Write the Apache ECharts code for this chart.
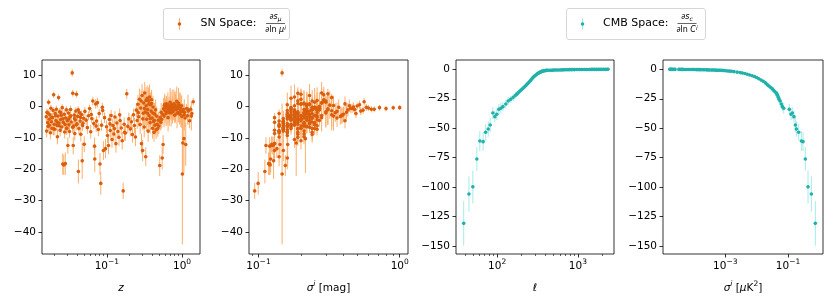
<!DOCTYPE html>
<html><head><meta charset="utf-8">
<script src="https://cdn.jsdelivr.net/npm/echarts@6/dist/echarts.min.js"></script>
<style>html,body{margin:0;padding:0;background:#fff}#c{width:831px;height:304px}</style>
</head><body><div id="c"></div>
<script>
// SN rows: [z, sigma_i (mag), ds_mu/dln mu_i, error]
const snLowZ = [
[0.0156,0.165,-3.2,1.5],[0.0158,0.21,-7.8,2.0],[0.0160,0.18,-1.8,1.2],[0.0163,0.25,-5.1,1.8],
[0.0166,0.14,-6.3,1.6],[0.0168,0.30,1.4,1.0],[0.0171,0.19,-4.0,1.4],[0.0174,0.23,-2.6,1.3],
[0.0177,0.16,-8.3,2.1],[0.0180,0.27,-0.5,1.1],[0.0183,0.15,-4.8,1.5],[0.0186,0.20,-6.9,1.9],
[0.0190,0.13,-3.5,1.4],[0.0193,0.22,-1.2,1.2],[0.0196,0.29,3.8,1.0],[0.0199,0.17,-5.6,1.7],
[0.0203,0.26,-7.2,2.0],[0.0206,0.14,-2.2,1.3],[0.0210,0.19,-4.4,1.5],[0.0213,0.24,-0.8,1.1],
[0.0217,0.16,-6.0,1.8],[0.0220,0.21,-9.6,2.4],[0.0224,0.18,-3.0,1.4],[0.0228,0.33,2.9,1.0],
[0.0231,0.15,-5.2,1.6],[0.0235,0.22,-1.6,1.2],[0.0239,0.13,-7.5,2.0],[0.0243,0.20,-4.1,1.5],
[0.0247,0.28,-2.8,1.3],[0.0251,0.17,-6.5,1.8],[0.0255,0.24,-0.3,1.1],[0.0259,0.12,-18.3,3.4],
[0.0263,0.19,-5.0,1.6],[0.0267,0.121,-18.6,3.2],[0.0271,0.23,-2.4,1.3],[0.0275,0.16,-8.1,2.1],
[0.0280,0.118,-18.2,3.6],[0.0284,0.21,-3.6,1.4],[0.0289,0.27,-1.0,1.2],[0.0294,0.15,-6.8,1.9],
[0.0298,0.20,-4.5,1.5],[0.0303,0.113,-12.4,2.6],[0.0308,0.18,-2.0,1.3],[0.0313,0.25,-5.8,1.7],
[0.0318,0.14,-7.9,2.0],[0.0323,0.22,-3.3,1.4],[0.0329,0.17,-0.9,1.2],[0.0335,0.24,-4.9,1.6],
[0.0346,0.147,10.8,1.2],[0.0352,0.19,4.3,1.1],[0.0357,0.125,-12.4,2.8],[0.0362,0.16,-6.2,1.8],
[0.0368,0.21,-2.7,1.3],[0.0374,0.13,-8.6,2.2],[0.0380,0.26,-4.2,1.5],[0.0387,0.18,-1.4,1.2],
[0.0394,0.20,4.0,1.1],[0.0401,0.15,-5.5,1.7],[0.0408,0.23,-3.1,1.4],[0.0418,0.111,-20.7,3.8],
[0.0425,0.17,-7.0,1.9],[0.0433,0.22,-1.9,1.3],[0.0441,0.14,-4.6,1.5],[0.0450,0.19,-8.8,2.3],
[0.0460,0.16,-2.5,1.3],[0.0470,0.128,-17.3,5.8],[0.0480,0.21,-5.3,1.7],[0.0490,0.18,-3.7,1.4],
[0.0500,0.124,-12.0,2.5],
[0.0165,0.22,-2.1,1.3],[0.0172,0.17,-5.9,1.7],[0.0185,0.24,-3.4,1.4],[0.0195,0.15,-7.1,2.0],
[0.0208,0.20,-2.9,1.3],[0.0219,0.13,-5.0,1.6],[0.0233,0.26,-6.1,1.8],[0.0245,0.18,-1.9,1.2],
[0.0261,0.22,-3.9,1.4],[0.0278,0.14,-5.7,1.7],[0.0292,0.25,-7.0,2.0],[0.0310,0.19,-4.0,1.5],
[0.0331,0.16,-2.9,1.3],[0.0350,0.23,-6.6,1.8],[0.0371,0.15,-3.8,1.5],[0.0392,0.21,-5.8,1.7],
[0.0415,0.18,-1.0,1.2],[0.0445,0.26,-3.4,1.4],[0.0475,0.14,-6.0,1.8]
];
const snMidZ = [
[0.051,0.17,-1.5,1.4],[0.053,0.22,-4.3,1.6],[0.055,0.15,-6.7,2.0],[0.057,0.19,-2.9,1.4],
[0.059,0.26,-0.6,1.3],[0.061,0.14,-8.0,2.2],[0.063,0.20,-3.8,1.5],[0.065,0.30,1.8,1.4],
[0.067,0.16,-5.4,1.7],[0.0686,0.12,-12.6,2.8],[0.0690,0.122,-16.7,4.2],[0.071,0.23,0.9,1.5],
[0.073,0.18,-4.6,1.6],[0.075,0.28,1.3,1.6],[0.077,0.15,-7.3,2.1],[0.079,0.21,-2.2,1.5],
[0.081,0.119,-18.3,3.5],[0.083,0.0995,-24.5,3.6],[0.085,0.17,-5.9,1.8],[0.087,0.24,-0.2,1.5],
[0.090,0.13,-14.0,3.0],[0.093,0.19,-3.5,1.7],[0.096,0.135,-13.4,3.0],[0.099,0.22,-6.4,2.0],
[0.102,0.16,-9.2,2.4],[0.105,0.127,-12.4,2.8],[0.108,0.20,-4.1,1.9],[0.111,0.14,-7.6,2.3],
[0.114,0.25,-2.8,1.8],[0.117,0.18,-10.5,2.6],[0.120,0.15,-6.0,2.2],[0.124,0.21,-8.7,2.5],
[0.128,0.17,-3.3,1.9],[0.132,0.13,-11.8,2.9],[0.136,0.23,-5.2,2.1],[0.140,0.16,-7.9,2.4],
[0.145,0.19,-9.8,2.7],[0.150,0.27,-4.4,2.0],[0.155,0.15,-6.8,2.3],[0.160,0.20,-10.9,2.8],
[0.165,0.094,-26.9,2.6],[0.170,0.18,-5.6,2.2],[0.176,0.14,-8.4,2.5],[0.184,0.31,4.1,1.6],
[0.190,0.22,-6.3,2.3],[0.196,0.16,-3.9,2.0],
[0.062,0.18,-2.5,1.5],[0.072,0.21,-6.2,1.9],[0.088,0.16,-1.2,1.6],[0.110,0.23,-5.5,2.2],
[0.126,0.19,-7.0,2.4],[0.148,0.17,-2.6,2.0],[0.172,0.24,-8.2,2.6]
];
const snHighZ = [
[0.205,0.19,-7.1,2.4],[0.212,0.15,-4.8,2.2],[0.219,0.24,-8.9,2.6],[0.226,0.17,-2.6,2.0],
[0.233,0.21,-6.0,2.5],[0.240,0.14,-9.7,2.9],[0.247,0.26,-1.1,2.3],[0.253,0.18,-4.4,2.7],
[0.259,0.22,0.8,2.9],[0.265,0.16,-3.2,3.2],[0.271,0.20,2.4,3.4],[0.277,0.25,-5.7,3.0],
[0.283,0.17,-0.4,3.5],[0.289,0.13,-11.8,3.2],[0.294,0.23,3.6,3.6],[0.299,0.15,-14.0,3.4],
[0.304,0.19,-2.1,3.8],[0.309,0.21,1.2,4.0],[0.314,0.16,-6.5,3.3],[0.319,0.28,4.4,3.5],
[0.324,0.18,-1.7,4.2],[0.329,0.14,-16.0,3.0],[0.334,0.22,0.3,4.5],[0.339,0.20,-4.0,3.9],
[0.344,0.17,2.7,4.1],[0.349,0.24,-0.9,3.7],[0.354,0.15,-7.8,3.4],[0.359,0.19,1.9,4.3],
[0.364,0.26,-2.9,3.6],[0.370,0.18,3.1,4.0],[0.376,0.21,-5.1,3.5],[0.382,0.16,0.6,3.9],
[0.388,0.23,-1.4,4.4],[0.394,0.29,2.2,3.2],[0.400,0.17,-3.6,3.8],[0.406,0.20,-6.9,3.3],
[0.412,0.25,-0.1,3.6],[0.418,0.15,-4.7,3.4],[0.424,0.19,-8.2,3.0],[0.431,0.22,-2.3,3.5],
[0.438,0.18,-5.9,3.2],[0.445,0.27,-1.0,3.3],[0.452,0.16,-7.4,2.9],[0.460,0.21,-3.0,3.1],
[0.468,0.19,-5.6,2.8],[0.476,0.24,-7.0,2.6],[0.484,0.17,-4.3,2.7],[0.492,0.20,-6.2,2.5],
[0.262,0.19,-1.9,3.0],[0.286,0.24,1.8,3.5],[0.301,0.17,-3.9,3.6],[0.317,0.22,-0.6,4.0],
[0.332,0.26,2.0,4.2],[0.347,0.18,-2.1,3.8],[0.362,0.21,0.9,4.1],[0.378,0.24,-3.8,3.6],
[0.392,0.19,1.0,3.9],[0.410,0.16,-2.0,3.5],[0.428,0.23,-4.4,3.2]
];
const snFarZ = [
[0.505,0.155,-18.8,3.3],[0.512,0.23,-3.4,2.8],[0.520,0.18,-5.0,2.6],[0.528,0.21,-1.8,3.0],
[0.536,0.17,-4.1,2.9],[0.545,0.160,-16.4,3.6],[0.553,0.19,-2.5,3.2],[0.560,0.142,-12.1,3.0],
[0.568,0.26,-0.7,3.4],[0.577,0.20,-3.0,3.6],[0.586,0.34,0.4,3.1],[0.595,0.22,-1.3,3.8],
[0.604,0.37,-0.2,2.6],[0.613,0.24,-2.2,4.0],[0.622,0.41,0.9,2.4],[0.632,0.19,-1.6,4.2],
[0.642,0.45,-0.5,1.4],[0.652,0.28,-3.5,4.4],[0.662,0.50,0.2,1.2],[0.672,0.21,-0.9,4.1],
[0.683,0.55,-1.1,1.2],[0.694,0.25,1.4,4.6],[0.705,0.60,-0.4,1.0],[0.716,0.30,-2.0,4.3],
[0.727,0.66,-0.8,1.0],[0.739,0.23,0.7,4.8],[0.750,0.72,-0.3,0.9],[0.762,0.36,-1.5,2.8],
[0.774,0.80,-0.6,0.9],[0.786,0.27,0.1,4.5],[0.798,0.39,-2.7,2.5],[0.811,0.32,0.5,4.4],
[0.824,0.90,-0.35,0.8],[0.837,0.43,-1.0,2.2],[0.850,0.29,1.7,4.7],[0.864,0.47,-0.1,1.5],
[0.878,1.00,-0.3,0.8],[0.892,0.35,-1.9,3.0],[0.906,0.52,0.6,1.3],[0.920,0.31,-0.7,5.0],
[0.935,0.40,-2.4,2.4],[0.950,0.58,-0.2,1.1],[0.965,0.33,-1.3,5.2],[0.981,0.44,0.3,2.0],
[0.997,0.38,-3.1,2.6],[1.010,0.147,-21.5,22.5],[1.025,0.185,-11.6,10.5],[1.040,0.48,-0.9,1.5],
[1.060,0.215,-10.2,11.0],[1.080,0.42,-1.8,2.3],[1.100,0.36,-3.6,2.8],[1.120,0.161,-12.1,6.8],
[1.150,0.46,-0.6,1.5],[1.180,0.39,-2.9,2.5],[1.220,0.53,-1.4,1.3],[1.260,0.41,-4.5,2.4],
[1.300,0.63,-0.8,1.0],[1.350,0.49,-2.2,1.4],[1.410,0.56,1.6,1.2],
[0.590,0.20,0.8,3.4],[0.618,0.17,-0.3,3.8],[0.648,0.22,0.6,4.0],[0.678,0.26,-1.9,4.2],
[0.710,0.18,0.3,4.4],[0.745,0.24,-1.1,4.3],[0.780,0.20,0.9,4.6],[0.818,0.25,-0.5,4.5],
[0.858,0.22,-2.1,4.8],[0.898,0.28,1.1,4.9],[0.942,0.26,-0.4,5.0],[0.988,0.30,-1.6,5.1],
[1.070,0.33,-2.6,5.0],[1.200,0.31,-1.0,4.8],[1.330,0.34,-3.0,4.6]
];
// CMB rows: [ell, sigma_i (muK^2), ds_c/dln C_l^i, error]
const cmbBinned = [
[38.5,0.745,-130.8,19],[44.7,0.556,-105.9,15],[50.0,0.435,-99.8,14],[56.0,0.357,-76.1,10],
[61.0,0.267,-60.9,8.5],[67.0,0.301,-61.4,8],[72.0,0.219,-53.5,7],[77.6,0.185,-50.7,6.5],
[82.0,0.172,-47.3,6],[88.5,0.137,-37.1,5],[93.6,0.155,-40.2,5],[99.0,0.125,-38.2,5],
[105,0.110,-34.0,4.5],[111,0.073,-33.1,4.5],[118,0.066,-31.7,4],[128,0.061,-29.4,3.5],
[137,0.056,-26.9,3.5],[147,0.052,-25.5,3],[158,0.049,-23.8,3],[169,0.0465,-22.1,2.5]
];
const cmbDense = [
[175,0.0447,-21.1,2.0],[182,0.0417,-20.0,2.0],[190,0.0372,-18.7,1.9],[198,0.0339,-17.6,1.9],
[206,0.0316,-16.5,1.8],[214,0.0282,-15.5,1.8],[222,0.0251,-14.4,1.7],[230,0.0224,-13.3,1.6],
[238,0.0204,-12.3,1.6],[246,0.0186,-11.3,1.5],[254,0.0162,-10.2,1.4],[262,0.0138,-9.1,1.3],
[270,0.0117,-8.0,1.2],[278,0.0100,-7.0,1.1],[286,0.0085,-6.2,1.0],[294,0.0072,-5.5,0.9],
[302,0.0060,-4.8,0.8],[310,0.0050,-4.2,0.8],[318,0.0042,-3.6,0.7],[326,0.0035,-3.2,0.6],
[334,0.0030,-2.8,0.6],[342,0.0024,-2.4,0.5],[350,0.0019,-2.0,0.5],[358,0.0016,-1.7,0.4],
[366,0.00138,-1.56,0.4],[375,0.0012,-1.41,0.3],[385,0.00105,-1.25,0.3],[395,0.00091,-1.1,0.3],
[405,0.00079,-0.95,0.3],[415,0.00069,-0.84,0.3],[435,0.00063,-0.82,0.3],[455,0.00058,-0.78,0.3],
[475,0.00053,-0.74,0.3],[495,0.00048,-0.70,0.3],[520,0.00043,-0.65,0.3],[545,0.00039,-0.60,0.3],
[570,0.00035,-0.57,0.3],[600,0.00031,-0.53,0.3],[630,0.00028,-0.49,0.3],[660,0.00025,-0.45,0.3],
[690,0.00022,-0.42,0.3],[720,0.00020,-0.38,0.3],[755,0.00018,-0.34,0.3],[790,0.00016,-0.30,0.3],
[830,0.000145,-0.28,0.3],[870,0.00013,-0.26,0.3],[910,0.000118,-0.24,0.3],[955,0.000107,-0.22,0.3],
[1000,0.000097,-0.20,0.3],[1050,0.000088,-0.18,0.3],[1100,0.000080,-0.16,0.3],[1150,0.000072,-0.15,0.3],
[1210,0.000065,-0.14,0.3],[1270,0.000059,-0.13,0.3],[1330,0.000053,-0.12,0.3],[1400,0.000048,-0.11,0.3],
[1470,0.000044,-0.10,0.3],[1540,0.000040,-0.09,0.3],[1620,0.000036,-0.08,0.3],[1700,0.000033,-0.07,0.3],
[1790,0.000025,-0.06,0.3],[1880,0.000023,-0.05,0.3],[1980,0.000021,-0.04,0.3],[2080,0.0000195,-0.03,0.3],
[2190,0.0000185,-0.02,0.3],[2300,0.0000175,-0.01,0.3],[2366,0.000017,0.0,0.3]
];
// tick values
const snYTicks = [-40,-30,-20,-10,0,10];
const cmbYTicks = [-150,-125,-100,-75,-50,-25,0];
const zMajor = [0.1,1];
const zMinor = [0.02,0.03,0.04,0.05,0.06,0.07,0.08,0.09,0.2,0.3,0.4,0.5,0.6,0.7,0.8,0.9];
const magMajor = [0.1,1];
const magMinor = [0.09,0.2,0.3,0.4,0.5,0.6,0.7,0.8,0.9];
const ellMajor = [100,1000];
const ellMinor = [40,50,60,70,80,90,200,300,400,500,600,700,800,900,2000];
const cmbSigMajor = [0.001,0.1];

const SN_PT = '#d95f0e', SN_ERR = '#fdae6b';
const CMB_PT = '#20b2aa', CMB_ERR = '#a6ebe8';
const FONT = 'DejaVu Sans';
const FS = 10.5;

const snAll = snLowZ.concat(snMidZ, snHighZ, snFarZ);
const cmbAll = cmbBinned.concat(cmbDense);

const minusFmt = v => (v < 0 ? '\u2212' + Math.abs(v) : String(v));
const powFmt = v => { const e = Math.round(Math.log10(v)); return '{b|10}{s|' + (e < 0 ? '\u2212' + (-e) : e) + '}'; };
const powRich = {
  b: {fontSize: FS, fontFamily: FONT, color: '#000', lineHeight: 12, padding: [4,0,0,0]},
  s: {fontSize: 7.5, fontFamily: FONT, color: '#000', lineHeight: 9, verticalAlign: 'top'}
};
const nameRich = {
  n: {fontSize: FS, fontFamily: FONT, color: '#000', lineHeight: 12, padding: [4,0,0,0]},
  i: {fontSize: FS, fontFamily: FONT, color: '#000', fontStyle: 'italic', lineHeight: 12, padding: [4,0,0,0]},
  s: {fontSize: 7.5, fontFamily: FONT, color: '#000', fontStyle: 'italic', lineHeight: 9, verticalAlign: 'top'},
  u: {fontSize: 7.5, fontFamily: FONT, color: '#000', lineHeight: 9, verticalAlign: 'top'}
};

const grids = [
  {left: 42, top: 60, width: 158, height: 194},
  {left: 249, top: 60, width: 159, height: 194},
  {left: 456, top: 60, width: 158, height: 194},
  {left: 663, top: 60, width: 160, height: 194}
].map(g => Object.assign(g, {show: true, borderColor: '#000', borderWidth: 0.8, backgroundColor: 'transparent'}));

function logAxes(gi, min, max, major, minor, name) {
  const main = {
    type: 'log', logBase: 10, gridIndex: gi, min: min, max: max, position: 'bottom',
    axisLine: {show: false, onZero: false}, splitLine: {show: false},
    axisTick: {show: true, customValues: major, length: 3.5, lineStyle: {color: '#000', width: 0.8}},
    axisLabel: {customValues: major, formatter: powFmt, rich: powRich, margin: 4},
    name: name, nameLocation: 'middle', nameGap: 26, nameTextStyle: {rich: nameRich}
  };
  const mn = {
    type: 'log', logBase: 10, gridIndex: gi, min: min, max: max, position: 'bottom', offset: 0,
    axisLine: {show: false, onZero: false}, splitLine: {show: false}, axisLabel: {show: false},
    axisTick: minor.length ? {show: true, customValues: minor, length: 2, lineStyle: {color: '#000', width: 0.6}} : {show: false}
  };
  return [main, mn];
}
const xAxes = [].concat(
  logAxes(0, 0.01371, 1.734, zMajor, zMinor, '{i|z}'),
  logAxes(1, 0.0857, 1.145, magMajor, magMinor, '{i|σ}{s|i} {n|[mag]}'),
  logAxes(2, 30.9, 2805, ellMajor, ellMinor, '{i|ℓ}'),
  logAxes(3, 1.03e-5, 1.307, cmbSigMajor, [], '{i|σ}{s|i} {n|[}{i|μ}{n|K}{u|2}{n|]}')
);
function yAx(gi, min, max, ticks, margin) {
  return {
    type: 'value', gridIndex: gi, min: min, max: max,
    axisLine: {show: false, onZero: false}, splitLine: {show: false},
    axisTick: {show: true, customValues: ticks, length: 3.5, lineStyle: {color: '#000', width: 0.8}},
    axisLabel: {customValues: ticks, formatter: minusFmt, fontSize: FS, fontFamily: FONT, color: '#000', margin: margin}
  };
}
const yAxes = [
  yAx(0, -47.06, 14.92, snYTicks, 6),
  yAx(1, -47.06, 14.92, snYTicks, 6),
  yAx(2, -156.8, 7.9, cmbYTicks, 6),
  yAx(3, -156.8, 7.9, cmbYTicks, 6)
];

function errRender(color) {
  return function (params, api) {
    const x = api.value(0), y = api.value(1), e = api.value(2);
    const a = api.coord([x, y - e]), b = api.coord([x, y + e]);
    return {type: 'line', silent: true, shape: {x1: a[0], y1: a[1], x2: b[0], y2: b[1]},
            style: {stroke: color, lineWidth: 1}};
  };
}
function panel(gi, rows, xi, ptColor, errColor) {
  const d = rows.map(r => [r[xi], r[2], r[3]]);
  return [
    {type: 'custom', xAxisIndex: 2 * gi, yAxisIndex: gi, data: d, renderItem: errRender(errColor),
     encode: {x: 0, y: 1}, z: 2, silent: true},
    {type: 'scatter', xAxisIndex: 2 * gi, yAxisIndex: gi, data: d.map(p => [p[0], p[1]]),
     symbolSize: 3.6, itemStyle: {color: ptColor, opacity: 1}, z: 3, silent: true}
  ];
}
const series = [].concat(
  panel(0, snAll, 0, SN_PT, SN_ERR),
  panel(1, snAll, 1, SN_PT, SN_ERR),
  panel(2, cmbAll, 0, CMB_PT, CMB_ERR),
  panel(3, cmbAll, 1, CMB_PT, CMB_ERR)
);

const fracRich = {
  m: {fontSize: 8, fontFamily: FONT, fill: '#000', lineHeight: 10},
  mi: {fontSize: 8, fontFamily: FONT, fill: '#000', fontStyle: 'italic', lineHeight: 10},
  sb: {fontSize: 6, fontFamily: FONT, fill: '#000', fontStyle: 'italic', lineHeight: 6, verticalAlign: 'bottom'},
  sp: {fontSize: 6, fontFamily: FONT, fill: '#000', fontStyle: 'italic', lineHeight: 6, verticalAlign: 'top'}
};
function legendBox(x0, w, mx, label, tx, fx, num, den, pt, er) {
  return {
    type: 'group', children: [
      {type: 'rect', shape: {x: x0 + 0.5, y: 8.5, width: w, height: 31, r: 2.5},
       style: {fill: '#fff', stroke: '#d6d6d6', lineWidth: 1}},
      {type: 'line', shape: {x1: mx, y1: 18, x2: mx, y2: 30}, style: {stroke: er, lineWidth: 1}},
      {type: 'circle', shape: {cx: mx, cy: 24, r: 1.8}, style: {fill: pt}},
      {type: 'text', x: tx, y: 23.5, style: {text: label, fontSize: 11, fontFamily: FONT, fill: '#000', verticalAlign: 'middle'}},
      {type: 'text', x: fx, y: 17, style: {text: num, rich: fracRich, align: 'center', verticalAlign: 'middle'}},
      {type: 'line', shape: {x1: fx - 9.5, y1: 23.5, x2: fx + 9.5, y2: 23.5}, style: {stroke: '#000', lineWidth: 0.6}},
      {type: 'text', x: fx, y: 30, style: {text: den, rich: fracRich, align: 'center', verticalAlign: 'middle'}}
    ]
  };
}
const graphic = [
  legendBox(163, 126, 179.5, 'SN Space:', 200.5, 275.5, '{m|∂}{mi|s}{sb|μ}', '{m|∂ln }{mi|μ}{sp|i}', SN_PT, SN_ERR),
  legendBox(566, 139, 582.5, 'CMB Space:', 603, 687, '{m|∂}{mi|s}{sb|c}', '{m|∂ln }{mi|C}{sp|i}', CMB_PT, CMB_ERR)
];

const chart = echarts.init(document.getElementById('c'), null, {renderer: 'canvas'});
chart.setOption({
  animation: false, backgroundColor: '#fff',
  grid: grids, xAxis: xAxes, yAxis: yAxes, series: series, graphic: graphic
});
</script></body></html>
